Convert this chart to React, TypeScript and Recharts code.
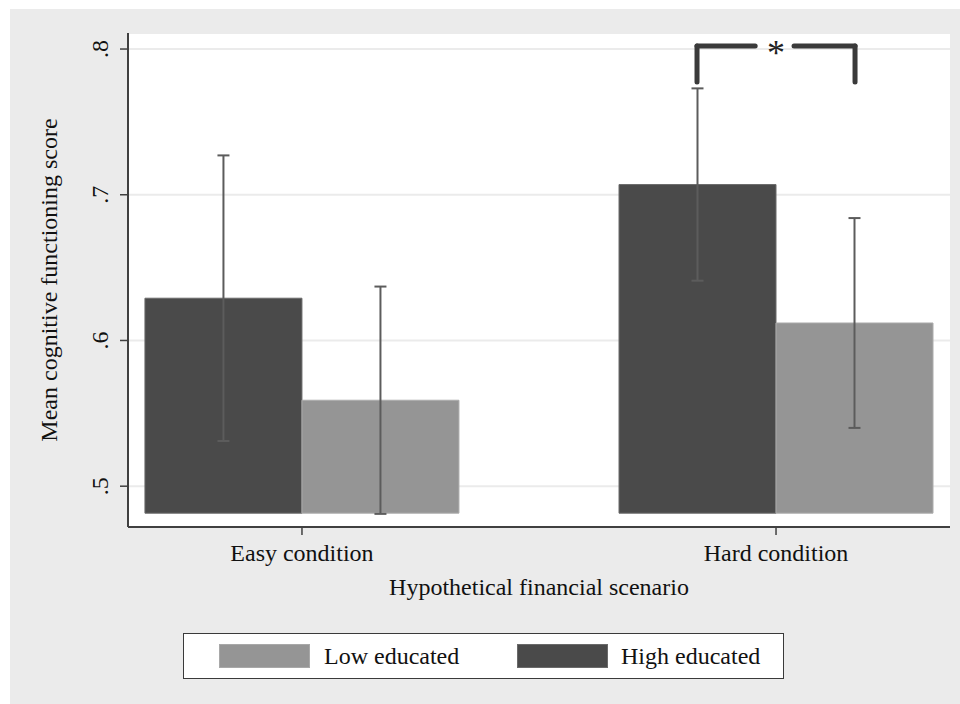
import React from "react";
import {
  BarChart,
  Bar,
  XAxis,
  YAxis,
  CartesianGrid,
  ErrorBar,
  ReferenceLine,
  ReferenceDot,
  Label,
} from "recharts";

// scenario categories and where they sit on the x scale
const conditions = ["Easy condition", "Hard condition"];
const conditionPos = [1, 2];

// mean scores and 95% CI half-widths per education group
const highEducated = [0.629, 0.707];
const highEducatedCI = [0.098, 0.066];
const lowEducated = [0.559, 0.612];
const lowEducatedCI = [0.078, 0.072];

// bars start from this base value, not from the axis minimum
const barBase = 0.4815;
const yTicks = [0.5, 0.6, 0.7, 0.8];

const chartData = conditions.map((name, i) => ({
  name,
  x: conditionPos[i],
  high: [barBase, highEducated[i]],
  highErr: highEducatedCI[i],
  low: [barBase, lowEducated[i]],
  lowErr: lowEducatedCI[i],
}));

// significance bracket over the hard condition
const bracketLeft = 2 - 1 / 6;
const bracketRight = 2 + 1 / 6;
const bracketTop = 0.802;
const bracketFoot = 0.7774;
const bracketGapLeft = 1.956;
const bracketGapRight = 2.038;

const FONT = "'Liberation Serif', 'Times New Roman', serif";
const DARK = "#4a4a4a";
const LIGHT = "#959595";
const INK = "#111";

const YTick = ({ x, y, payload }: any) => {
  const bx = x - 10;
  return (
    <text
      x={bx}
      y={y}
      transform={`rotate(-90, ${bx}, ${y})`}
      textAnchor="middle"
      fontFamily={FONT}
      fontSize={24}
      fill={INK}
    >
      {String(payload.value).replace(/^0/, "")}
    </text>
  );
};

const XTick = ({ x, y, payload }: any) => {
  const idx = conditionPos.indexOf(payload.value);
  return (
    <text x={x} y={y + 26} textAnchor="middle" fontFamily={FONT} fontSize={24} fill={INK}>
      {conditions[idx]}
    </text>
  );
};

const lineStyle = {
  stroke: "#3a3a3a",
  strokeWidth: 5,
  strokeLinecap: "round" as const,
};

const Swatch = ({ color, border }: { color: string; border: string }) => (
  <div
    style={{
      width: 91,
      height: 24,
      background: color,
      boxSizing: "border-box",
      border: `1px solid ${border}`,
    }}
  />
);

export default function App() {
  return (
    <div style={{ position: "absolute", left: 0, top: 0, width: 960, height: 704, background: "#fff" }}>
      <div
        style={{
          position: "absolute",
          left: 10,
          top: 9,
          width: 950,
          height: 695,
          background: "#ebebeb",
        }}
      >
        <BarChart
          width={950}
          height={695}
          data={chartData}
          margin={{ top: 24, right: 10, left: 20, bottom: 117 }}
          barGap={0}
          barSize={157}
        >
          <CartesianGrid
            vertical={false}
            fill="#fff"
            stroke="#ebebeb"
            strokeWidth={2}
          />
          <XAxis
            type="number"
            dataKey="x"
            domain={[0.633, 2.367]}
            ticks={conditionPos}
            allowDataOverflow
            height={60}
            tickSize={8}
            tickMargin={0}
            tick={<XTick />}
            axisLine={{ stroke: "#404040", strokeWidth: 2 }}
            tickLine={{ stroke: "#404040", strokeWidth: 1.5 }}
          >
            <Label
              content={({ viewBox }: any) => (
                <text
                  x={viewBox.x + viewBox.width / 2}
                  y={viewBox.y + 68}
                  textAnchor="middle"
                  fontFamily={FONT}
                  fontSize={24}
                  fill={INK}
                >
                  Hypothetical financial scenario
                </text>
              )}
            />
          </XAxis>
          <YAxis
            type="number"
            domain={[0.472, 0.811]}
            ticks={yTicks}
            allowDataOverflow
            width={98}
            tickSize={8}
            tickMargin={2}
            tick={<YTick />}
            axisLine={{ stroke: "#404040", strokeWidth: 2 }}
            tickLine={{ stroke: "#404040", strokeWidth: 1.5 }}
          >
            <Label
              content={({ viewBox }: any) => {
                const bx = viewBox.x + viewBox.width - 71;
                const cy = viewBox.y + viewBox.height / 2;
                return (
                  <text
                    x={bx}
                    y={cy}
                    transform={`rotate(-90, ${bx}, ${cy})`}
                    textAnchor="middle"
                    fontFamily={FONT}
                    fontSize={24}
                    fill={INK}
                  >
                    Mean cognitive functioning score
                  </text>
                );
              }}
            />
          </YAxis>
          <Bar dataKey="high" fill={DARK} stroke="#6a6a6a" strokeWidth={1} isAnimationActive={false}>
            <ErrorBar dataKey="highErr" width={6} stroke="#5c5c5c" strokeWidth={2} direction="y" />
          </Bar>
          <Bar dataKey="low" fill={LIGHT} stroke="#acacac" strokeWidth={1} isAnimationActive={false}>
            <ErrorBar dataKey="lowErr" width={6} stroke="#5c5c5c" strokeWidth={2} direction="y" />
          </Bar>
          <ReferenceLine
            segment={[
              { x: bracketLeft, y: bracketFoot },
              { x: bracketLeft, y: bracketTop },
            ]}
            {...lineStyle}
          />
          <ReferenceLine
            segment={[
              { x: bracketLeft, y: bracketTop },
              { x: bracketGapLeft, y: bracketTop },
            ]}
            {...lineStyle}
          />
          <ReferenceLine
            segment={[
              { x: bracketGapRight, y: bracketTop },
              { x: bracketRight, y: bracketTop },
            ]}
            {...lineStyle}
          />
          <ReferenceLine
            segment={[
              { x: bracketRight, y: bracketTop },
              { x: bracketRight, y: bracketFoot },
            ]}
            {...lineStyle}
          />
          <ReferenceDot
            x={2}
            y={bracketTop}
            r={0}
            fill="none"
            stroke="none"
            label={({ viewBox }: any) => (
              <text
                x={viewBox.x + viewBox.width / 2}
                y={viewBox.y + 19}
                textAnchor="middle"
                fontFamily={FONT}
                fontSize={36}
                fill="#222"
              >
                *
              </text>
            )}
          />
        </BarChart>

        {/* legend box */}
        <div
          style={{
            position: "absolute",
            left: 173,
            top: 624,
            width: 601,
            height: 46,
            boxSizing: "border-box",
            background: "#fff",
            border: "1.5px solid #3a3a3a",
            display: "flex",
            alignItems: "center",
            fontFamily: FONT,
            fontSize: 24,
            color: INK,
          }}
        >
          <div style={{ marginLeft: 35 }}>
            <Swatch color={LIGHT} border="#a8a8a8" />
          </div>
          <span style={{ marginLeft: 14 }}>Low educated</span>
          <div style={{ position: "absolute", left: 333 }}>
            <Swatch color={DARK} border="#6a6a6a" />
          </div>
          <span style={{ position: "absolute", left: 437 }}>High educated</span>
        </div>
      </div>
    </div>
  );
}
